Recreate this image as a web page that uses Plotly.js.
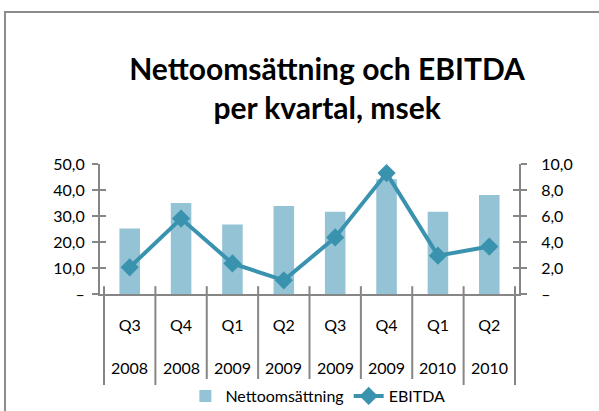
<!DOCTYPE html>
<html>
<head>
<meta charset="utf-8">
<script src="https://cdn.plot.ly/plotly-3.0.1.min.js"></script>
<style>
  body { margin: 0; background: #fff; }
  #wrap { position: relative; width: 599px; height: 411px; overflow: hidden; }
  #frame { position: absolute; left: 4px; top: 11px; width: 700px; height: 500px;
           border-left: 2px solid #8c8c8c; border-top: 2px solid #8c8c8c; pointer-events: none; }
</style>
</head>
<body>
<div id="wrap">
  <div id="chart" style="width:599px;height:411px;"></div>
  <div id="frame"></div>
</div>
<script>
const quarters = ['Q3', 'Q4', 'Q1', 'Q2', 'Q3', 'Q4', 'Q1', 'Q2'];
const years = ['2008', '2008', '2009', '2009', '2009', '2009', '2010', '2010'];
const netSales = [25.2, 35.0, 26.7, 33.8, 31.6, 44.1, 31.6, 38.1];
const ebitda = [2.05, 5.8, 2.35, 1.05, 4.35, 9.3, 2.95, 3.65];

const leftTicks = [0, 10, 20, 30, 40, 50];
const leftLabels = ['–', '10,0', '20,0', '30,0', '40,0', '50,0'];
const rightTicks = [0, 2, 4, 6, 8, 10];
const rightLabels = ['–', '2,0', '4,0', '6,0', '8,0', '10,0'];

const categories = quarters.map((q, i) => q + ' ' + years[i]);
const font = 'Lato, "Open Sans", sans-serif';
const grey = '#868686';

const traces = [
  {
    x: categories, y: netSales, type: 'bar', name: 'Nettoomsättning',
    marker: { color: '#93c3d5' }, yaxis: 'y'
  },
  {
    x: categories, y: ebitda, type: 'scatter', mode: 'lines+markers', name: 'EBITDA',
    line: { color: '#3a93ae', width: 4 },
    marker: { symbol: 'diamond', size: 14, color: '#3a93ae' },
    yaxis: 'y2'
  },
  // empty traces so the inside-tick overlay axes get drawn
  { x: [], y: [], yaxis: 'y3', showlegend: false, hoverinfo: 'skip' },
  { x: [], y: [], yaxis: 'y4', showlegend: false, hoverinfo: 'skip' }
];

// category separators below the x axis
const shapes = [];
for (let i = 0; i <= categories.length; i++) {
  shapes.push({
    type: 'line', xref: 'x', yref: 'paper',
    x0: i - 0.5, x1: i - 0.5, y0: 0.06, y1: -0.7,
    line: { color: grey, width: 2 }
  });
}

const yearNotes = years.map((yr, i) => ({
  x: categories[i], y: -0.655, xref: 'x', yref: 'paper',
  text: yr, showarrow: false, font: { family: font, size: 16, color: '#000' }
}));

const baseY = {
  showgrid: false, zeroline: false, showline: true,
  linecolor: grey, linewidth: 2, tickcolor: grey, tickwidth: 2, ticklen: 6
};

const layout = {
  width: 599, height: 411,
  margin: { l: 100, r: 80, t: 164, b: 117, autoexpand: false },
  paper_bgcolor: '#fff', plot_bgcolor: '#fff',
  font: { family: font, size: 16, color: '#000' },
  title: {
    text: '<b>Nettoomsättning och EBITDA<br>per kvartal, msek</b>',
    font: { family: font, size: 30, color: '#000' },
    x: 0.546, xanchor: 'center', y: 1 - 80 / 411, yanchor: 'top'
  },
  showlegend: true,
  legend: {
    orientation: 'h', x: 0.52, xanchor: 'center', y: -0.785, yanchor: 'middle',
    font: { family: font, size: 16, color: '#000' }, traceorder: 'normal'
  },
  bargap: 0.6,
  xaxis: {
    type: 'category', showgrid: false, showline: true, linecolor: grey, linewidth: 2,
    ticks: '', tickvals: categories, ticktext: quarters,
    ticklabelstandoff: 16, tickfont: { family: font, size: 16, color: '#000' }
  },
  yaxis: Object.assign({}, baseY, {
    range: [0, 50], tickvals: leftTicks, ticktext: leftLabels, ticks: 'outside',
    ticklabelstandoff: 4
  }),
  yaxis2: Object.assign({}, baseY, {
    range: [0, 10], tickvals: rightTicks, ticktext: rightLabels, ticks: 'outside',
    overlaying: 'y', side: 'right', ticklabelstandoff: 11
  }),
  yaxis3: Object.assign({}, baseY, {
    range: [0, 50], tickvals: leftTicks, ticks: 'inside', showticklabels: false,
    overlaying: 'y', side: 'left'
  }),
  yaxis4: Object.assign({}, baseY, {
    range: [0, 10], tickvals: rightTicks, ticks: 'inside', showticklabels: false,
    overlaying: 'y', side: 'right'
  }),
  shapes: shapes,
  annotations: yearNotes
};

Plotly.newPlot('chart', traces, layout, { displayModeBar: false, staticPlot: true });
</script>
</body>
</html>
